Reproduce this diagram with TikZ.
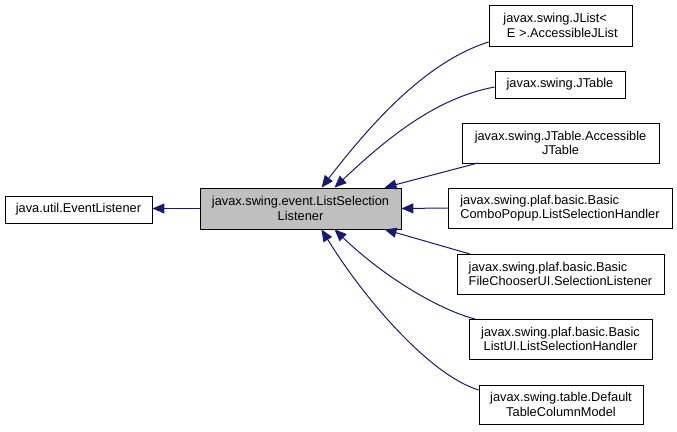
\documentclass[tikz,border=0pt]{standalone}
\usepackage{fontspec}
\setmainfont{Liberation Sans}
\usetikzlibrary{arrows.meta}
\definecolor{edgeblue}{HTML}{191970}
\definecolor{boxgray}{HTML}{BFBFBF}
\begin{document}
\begin{tikzpicture}[x=1pt,y=-1pt,
    cls/.style={draw,thick,fill=white,inner sep=0pt,align=center,
      font=\fontsize{12.8}{14.5}\selectfont},
    inh/.style={edgeblue,line width=1pt,{Triangle[length=12pt,width=10pt]}-}]
  \useasboundingbox (0,0) rectangle (677,431);
  % base and the class itself
  \node [cls,minimum width=147,minimum height=27] (evl) at (78.5,209.5) {java.util.EventListener};
  \node [cls,fill=boxgray,minimum width=201,minimum height=41] (lsl) at (300.5,208.5)
    {javax.swing.event.ListSelection\\Listener};
  % subclasses
  \node [cls,align=left,minimum width=143,minimum height=41] (jlist) at (560.5,25.5)
    {javax.swing.JList<\\\ E >.AccessibleJList};
  \node [cls,minimum width=130,minimum height=27] (jtable) at (560,84.5) {javax.swing.JTable};
  \node [cls,minimum width=197,minimum height=40] (accj) at (560.5,143)
    {javax.swing.JTable.Accessible\\JTable};
  \node [cls,align=left,minimum width=224,minimum height=40] (combo) at (560,208)
    {javax.swing.plaf.basic.Basic\\ComboPopup.ListSelectionHandler};
  \node [cls,align=left,minimum width=207,minimum height=40] (fcui) at (560.5,274)
    {javax.swing.plaf.basic.Basic\\FileChooserUI.SelectionListener};
  \node [cls,minimum width=183,minimum height=40] (listui) at (560.5,339)
    {javax.swing.plaf.basic.Basic\\ListUI.ListSelectionHandler};
  \node [cls,minimum width=164,minimum height=39] (tcm) at (561,404.5)
    {javax.swing.table.Default\\TableColumnModel};
  % inheritance
  \draw [inh] (evl.east|-lsl.west) -- (lsl.west);
  \draw [inh] (lsl.north)++(21,0) .. controls (370,125) and (425,62) .. (jlist.west|-0,42);
  \draw [inh] (lsl.north)++(34,0) .. controls (385,140) and (435,98) .. (jtable.west|-0,87);
  \draw [inh] (lsl.north)++(84,0) -- (478,163);
  \draw [inh] (lsl.east) -- (combo.west);
  \draw [inh] (lsl.south)++(84,0) -- (470,254);
  \draw [inh] (lsl.south)++(34,0) .. controls (385,278) and (440,310) .. (475,319);
  \draw [inh] (lsl.south)++(21,0) .. controls (365,300) and (430,375) .. (tcm.west|-0,390);
\end{tikzpicture}
\end{document}
